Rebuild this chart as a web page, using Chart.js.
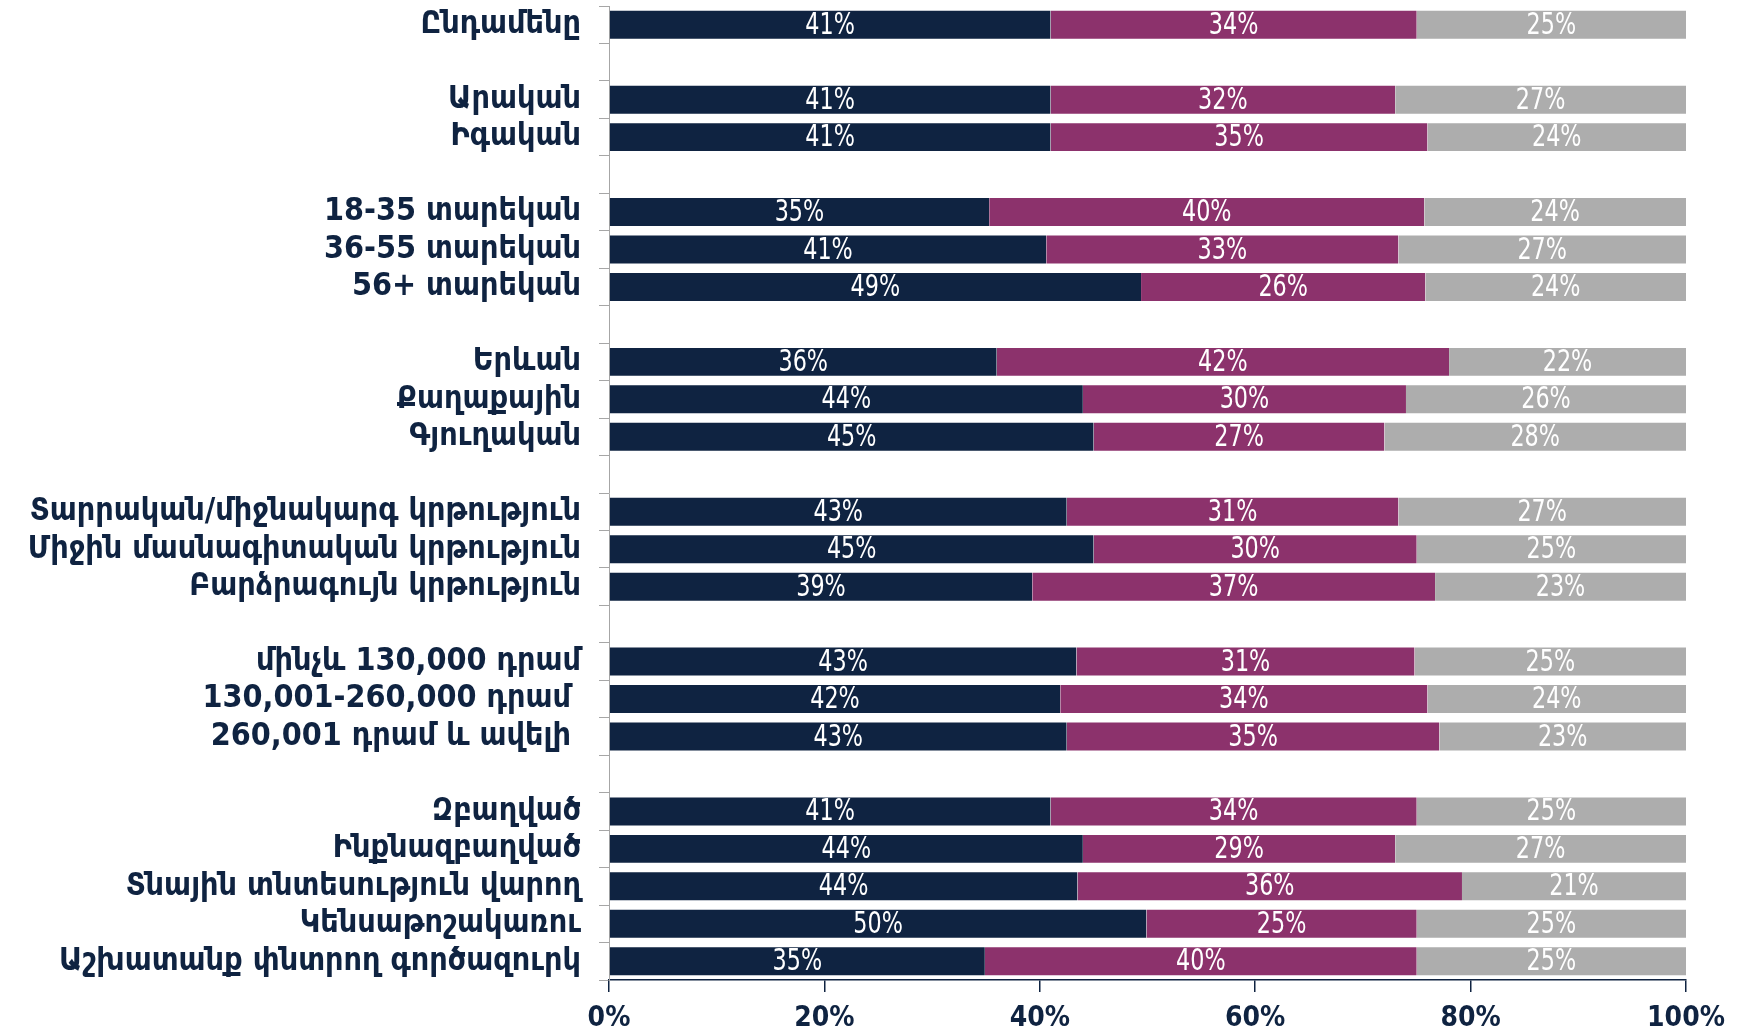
<!DOCTYPE html>
<html>
<head>
<meta charset="utf-8">
<script src="https://cdn.jsdelivr.net/npm/chart.js@4.4.1/dist/chart.umd.min.js"></script>
<style>
  html, body { margin: 0; padding: 0; background: #fff; }
  #wrap { width: 1746px; height: 1035px; }
</style>
</head>
<body>
<div id="wrap"><canvas id="chart"></canvas></div>
<script>
// rows, "" = empty row between groups
var categories = [
  "Ընդամենը", "",
  "Արական", "Իգական", "",
  "18-35 տարեկան", "36-55 տարեկան", "56+ տարեկան", "",
  "Երևան", "Քաղաքային", "Գյուղական", "",
  "Տարրական/միջնակարգ կրթություն", "Միջին մասնագիտական կրթություն", "Բարձրագույն կրթություն", "",
  "մինչև 130,000 դրամ", "130,001-260,000 դրամ ", "260,001 դրամ և ավելի ", "",
  "Զբաղված", "Ինքնազբաղված", "Տնային տնտեսություն վարող", "Կենսաթոշակառու", "Աշխատանք փնտրող գործազուրկ"
];

var serie1 = [41.0, null, 41.0, 41.0, null, 35.3, 40.6, 49.4, null, 36.0, 44.0, 45.0, null, 42.5, 45.0, 39.3, null, 43.4, 41.9, 42.5, null, 41.0, 44.0, 43.5, 49.9, 34.9];
var serie2 = [34.0, null, 32.0, 35.0, null, 40.4, 32.7, 26.4, null, 42.0, 30.0, 27.0, null, 30.8, 30.0, 37.4, null, 31.4, 34.1, 34.6, null, 34.0, 29.0, 35.7, 25.1, 40.1];
var serie3 = [25.0, null, 27.0, 24.0, null, 24.3, 26.7, 24.2, null, 22.0, 26.0, 28.0, null, 26.7, 25.0, 23.3, null, 25.2, 24.0, 22.9, null, 25.0, 27.0, 20.8, 25.0, 25.0];

var xTicks = [0, 20, 40, 60, 80, 100];

var navy = "#0f2341";

// labels in the middle of each piece (narrow look)
var barLabels = {
  id: "barLabels",
  afterDatasetsDraw: function (chart) {
    var ctx = chart.ctx;
    ctx.save();
    ctx.fillStyle = "#fff";
    ctx.font = "31px 'DejaVu Sans Condensed', sans-serif";
    ctx.textAlign = "center";
    ctx.textBaseline = "middle";
    chart.data.datasets.forEach(function (ds, i) {
      chart.getDatasetMeta(i).data.forEach(function (bar, j) {
        var v = ds.data[j];
        if (v == null) return;
        var x = (bar.x + bar.base) / 2;
        ctx.save();
        ctx.translate(x, bar.y + 1);
        ctx.scale(0.8, 1);
        ctx.fillText(Math.round(v) + "%", 0, 0);
        ctx.restore();
      });
    });
    ctx.restore();
  }
};

var edge = "rgba(255,255,255,0.25)";

var ctx = document.getElementById("chart").getContext("2d");

var chart = new Chart(ctx, {
  type: "bar",
  data: {
    labels: categories,
    datasets: [
      { data: serie1, backgroundColor: "#0f2341" },
      { data: serie2, backgroundColor: "#8c326c" },
      { data: serie3, backgroundColor: "#adadad" }
    ]
  },
  options: {
    indexAxis: "y",
    responsive: true,
    maintainAspectRatio: false,
    animation: false,
    layout: { padding: { top: 6, right: 60, left: 0, bottom: 0 } },
    datasets: {
      bar: {
        barPercentage: 0.8,
        categoryPercentage: 1.0,
        borderColor: edge,
        borderWidth: { top: 1, bottom: 1, left: 0, right: 0 },
        borderSkipped: false
      }
    },
    plugins: {
      legend: { display: false },
      tooltip: { enabled: false }
    },
    scales: {
      x: {
        stacked: true,
        min: 0,
        max: 100,
        afterBuildTicks: function (s) {
          s.ticks = xTicks.map(function (v) { return { value: v }; });
        },
        afterFit: function (s) { s.height = 55; s.paddingLeft = 0; s.paddingRight = 0; },
        grid: { drawOnChartArea: false, tickLength: 12, color: navy, lineWidth: 1.5 },
        border: { color: navy, width: 1.5 },
        ticks: {
          color: navy,
          padding: 10,
          font: { family: "'DejaVu Sans Condensed', 'DejaVu Sans'", size: 28, weight: "bold" },
          callback: function (v) { return v + "%"; }
        }
      },
      y: {
        stacked: true,
        afterFit: function (s) { s.width = 609; s.paddingTop = 0; s.paddingBottom = 0; },
        grid: { drawOnChartArea: false, tickLength: 10, color: "#a6a6a6", offset: true },
        border: { color: "#a6a6a6" },
        ticks: {
          color: navy,
          padding: 18,
          autoSkip: false,
          font: { family: "'DejaVu Sans Condensed', 'DejaVu Sans'", size: 32, weight: "bold" }
        }
      }
    }
  },
  plugins: [barLabels]
});
</script>
</body>
</html>
